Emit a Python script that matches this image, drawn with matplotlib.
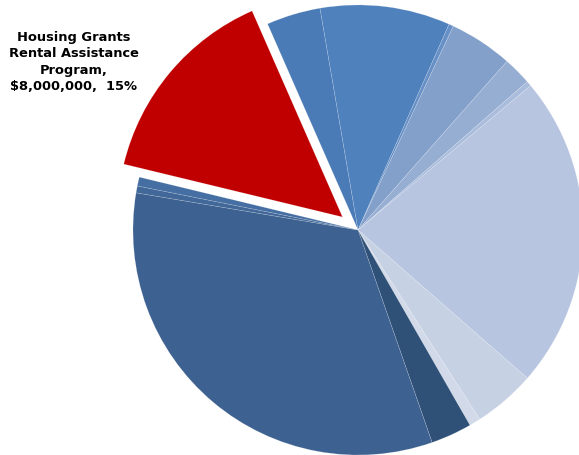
import matplotlib.pyplot as plt

# Budget shares by program, listed clockwise starting from the slice left of 12 o'clock
programs = [
    "Program A", "Program B", "Program C", "Program D", "Program E",
    "Program F", "Program G", "Program H", "Program I", "Program J",
    "Program K", "Program L", "Program M",
    "Housing Grants Rental Assistance Program",
]
amounts = [
    2120000, 5100000, 180000, 2490000, 1110000,
    200000, 12310000, 2440000, 440000, 1610000,
    18020000, 270000, 350000,
    8000000,
]
colors = [
    "#4a7bb6", "#4f81bd", "#6790c6", "#83a0cb", "#97aed3",
    "#a9bcdc", "#b7c5e0", "#c6d1e4", "#d2dae9", "#2f5178",
    "#3d6190", "#416898", "#456ea3",
    "#c00000",
]
explode = [0] * 13 + [0.09]

fig = plt.figure(figsize=(5.79, 4.55), dpi=100)
ax = fig.add_axes([0, 0, 1, 1])

ax.pie(amounts, colors=colors, explode=explode, startangle=113.7,
       counterclock=False, radius=1.0,
       wedgeprops=dict(linewidth=0.4, edgecolor="#ffffff40"))

ax.set_xlim(-1.591, 0.982)
ax.set_ylim(-1.0, 1.022)
ax.set_aspect("auto")
ax.axis("off")

total = sum(amounts)
red = amounts[-1]
label = "Housing Grants\nRental Assistance\nProgram,\n${:,},  {:.0f}%".format(red, 100 * red / total)
fig.text(0.127, 0.864, label, ha="center", va="center", fontsize=9.4,
         fontweight="bold", linespacing=1.33, family="DejaVu Sans")

fig.savefig("out.png", dpi=100)
